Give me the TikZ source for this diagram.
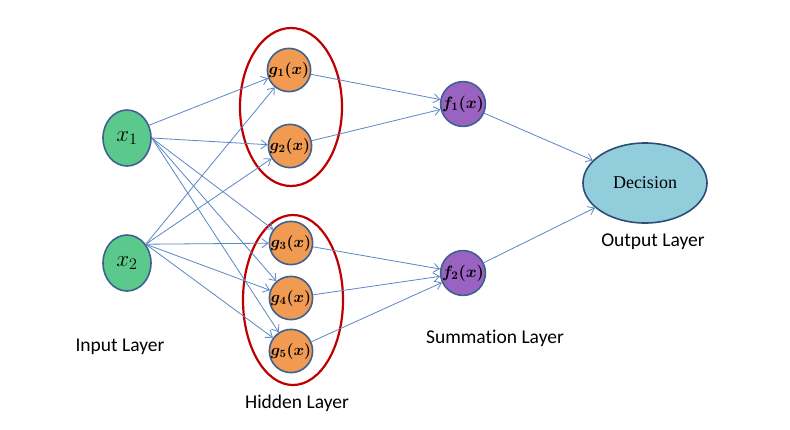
\documentclass[tikz,border=0pt]{standalone}
\usepackage{fix-cm}
\usepackage[no-math]{fontspec}
\setmainfont{Carlito}[Ligatures=NoCommon]
\newfontfamily\timesf{Liberation Serif}
\usetikzlibrary{arrows.meta,shapes.geometric}
\definecolor{nodeborder}{HTML}{3F6190}
\definecolor{greenfill}{HTML}{5BC98C}
\definecolor{orangefill}{HTML}{F09A52}
\definecolor{purplefill}{HTML}{9A63C2}
\definecolor{decfill}{HTML}{92CDDC}
\definecolor{decborder}{HTML}{2E4C78}
\definecolor{groupred}{HTML}{C00000}
\definecolor{linkblue}{HTML}{5B87C5}
\tikzset{
  inputnode/.style={ellipse, draw=nodeborder, line width=1.6pt, fill=greenfill, minimum width=48pt, minimum height=56pt, inner sep=0pt, font=\fontsize{23}{23}\selectfont},
  hiddennode/.style={circle, draw=nodeborder, line width=1.6pt, fill=orangefill, minimum size=42pt, inner sep=0pt, font=\fontsize{16}{16}\selectfont\boldmath},
  sumnode/.style={circle, draw=nodeborder, line width=1.6pt, fill=purplefill, minimum size=41pt, inner sep=0pt, font=\fontsize{16.5}{16.5}\selectfont\boldmath},
  decnode/.style={ellipse, draw=decborder, line width=1.6pt, fill=decfill, minimum width=124pt, minimum height=80pt, inner sep=0pt, font=\timesf\fontsize{18}{18}\selectfont},
  group/.style={ellipse, draw=groupred, line width=2.2pt},
  link/.style={draw=linkblue, line width=0.8pt, -{Straight Barb[length=6pt,width=9pt,line width=0.8pt]}},
  layerlabel/.style={font=\fontsize{19.5}{19.5}\selectfont, inner sep=0pt}
}
\begin{document}
\begin{tikzpicture}[x=1pt,y=-1pt]
\useasboundingbox[fill=white] (0,0) rectangle (790,429);
% groups
\node[group, minimum width=102pt, minimum height=158pt] (grpA) at (291,107) {};
\node[group, minimum width=100pt, minimum height=170pt] (grpB) at (293,300) {};
% nodes
\node[inputnode] (x1) at (127,138) {$x_1$};
\node[inputnode] (x2) at (127,263) {$x_2$};
\node[hiddennode] (g1) at (289,70) {$g_1(x)$};
\node[hiddennode] (g2) at (290,146) {$g_2(x)$};
\node[hiddennode] (g3) at (291,243) {$g_3(x)$};
\node[hiddennode] (g4) at (291,298) {$g_4(x)$};
\node[hiddennode] (g5) at (291,351) {$g_5(x)$};
\node[sumnode] (f1) at (463,104) {$f_1(x)$};
\node[sumnode] (f2) at (463,273) {$f_2(x)$};
\node[decnode] (dec) at (645,183) {Decision};
% labels
\node[layerlabel] (lin) at (120,347) {Input Layer};
\node[layerlabel] (lhid) at (297,403) {Hidden Layer};
\node[layerlabel] (lsum) at (495,338) {Summation Layer};
\node[layerlabel] (lout) at (653,242) {Output Layer};
% links
\draw[link] (x1.30) -- (g1);
\foreach \t in {g2,g3,g4,g5}{
  \draw[link] (x1.east) -- (\t);
}
\foreach \t in {g1,g2,g3,g4,g5}{
  \draw[link] (x2.45) -- (\t);
}
\draw[link] (g1) -- (f1);
\draw[link] (g2) -- (f1);
\draw[link] (g3) -- (f2);
\draw[link] (g4) -- (f2);
\draw[link] (g5) -- (f2);
\draw[link] (f1) -- (dec);
\draw[link] (f2) -- (dec);
\end{tikzpicture}
\end{document}
